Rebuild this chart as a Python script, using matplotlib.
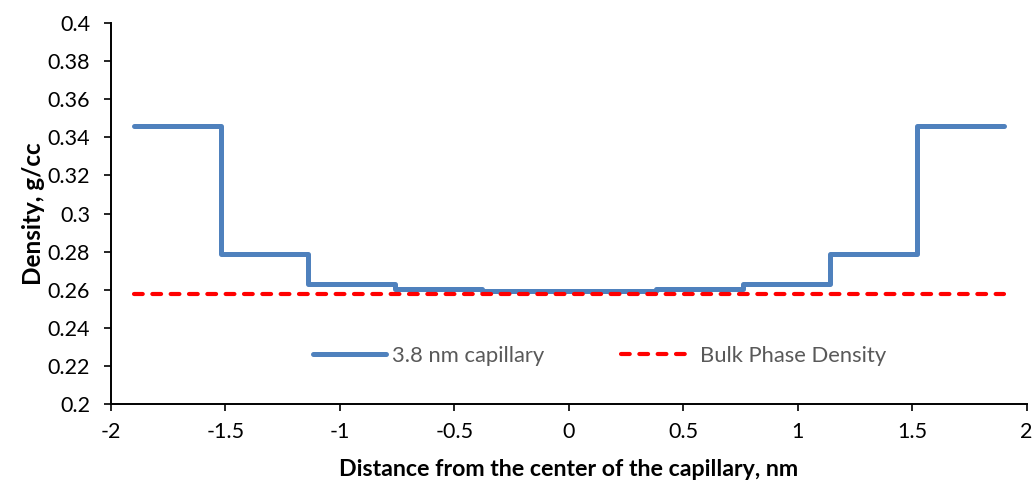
import numpy as np
import matplotlib.pyplot as plt

# step edges (nm) and density in each segment (g/cc)
edges = [-1.9, -1.52, -1.14, -0.76, -0.38, 0.38, 0.76, 1.14, 1.52, 1.9]
density = [0.346, 0.279, 0.2628, 0.2602, 0.2594, 0.2602, 0.2628, 0.279, 0.346]
bulk_x = [-1.9, 1.9]
bulk_density = [0.2576, 0.2576]

plt.rcParams['font.family'] = ['Lato', 'DejaVu Sans']

fig = plt.figure(figsize=(10.36, 4.87), dpi=100)
ax = fig.add_axes([0.107, 0.170, 0.884, 0.783])

ax.step(edges, density + [density[-1]], where='post', color='#4f81bd', lw=3.6,
        label='3.8 nm capillary', solid_joinstyle='round', solid_capstyle='round')
ax.plot(bulk_x, bulk_density, color='#ff0000', lw=3.0, ls=(0, (2.1, 2.3)),
        dash_capstyle='round', label='Bulk Phase Density')

ax.set_xlim(-2, 2)
ax.set_ylim(0.2, 0.4)
ax.set_xticks(np.arange(-2, 2.01, 0.5))
ax.set_yticks(np.arange(0.2, 0.401, 0.02))
ax.set_xticklabels(['-2', '-1.5', '-1', '-0.5', '0', '0.5', '1', '1.5', '2'])
ax.set_yticklabels(['0.2', '0.22', '0.24', '0.26', '0.28', '0.3', '0.32', '0.34',
                    '0.36', '0.38', '0.4'])
ax.tick_params(labelsize=15.5, direction='out', length=5, width=1.2, colors='black')
ax.tick_params(axis='y', pad=10)
ax.tick_params(axis='x', pad=8)

for s in ['top', 'right']:
    ax.spines[s].set_visible(False)
for s in ['left', 'bottom']:
    ax.spines[s].set_linewidth(1.4)

ax.set_xlabel('Distance from the center of the capillary, nm', fontsize=16.7,
              fontweight='bold', labelpad=12)
ax.set_ylabel('Density, g/cc', fontsize=17.5, fontweight='bold', labelpad=2)

leg = ax.legend(loc='center', bbox_to_anchor=(0.534, 0.126), ncol=2, frameon=False,
                fontsize=15.8, handlelength=3.3, columnspacing=3.5, handletextpad=0.3)
for t in leg.get_texts():
    t.set_color('#595959')

fig.savefig('out.png', dpi=100)
